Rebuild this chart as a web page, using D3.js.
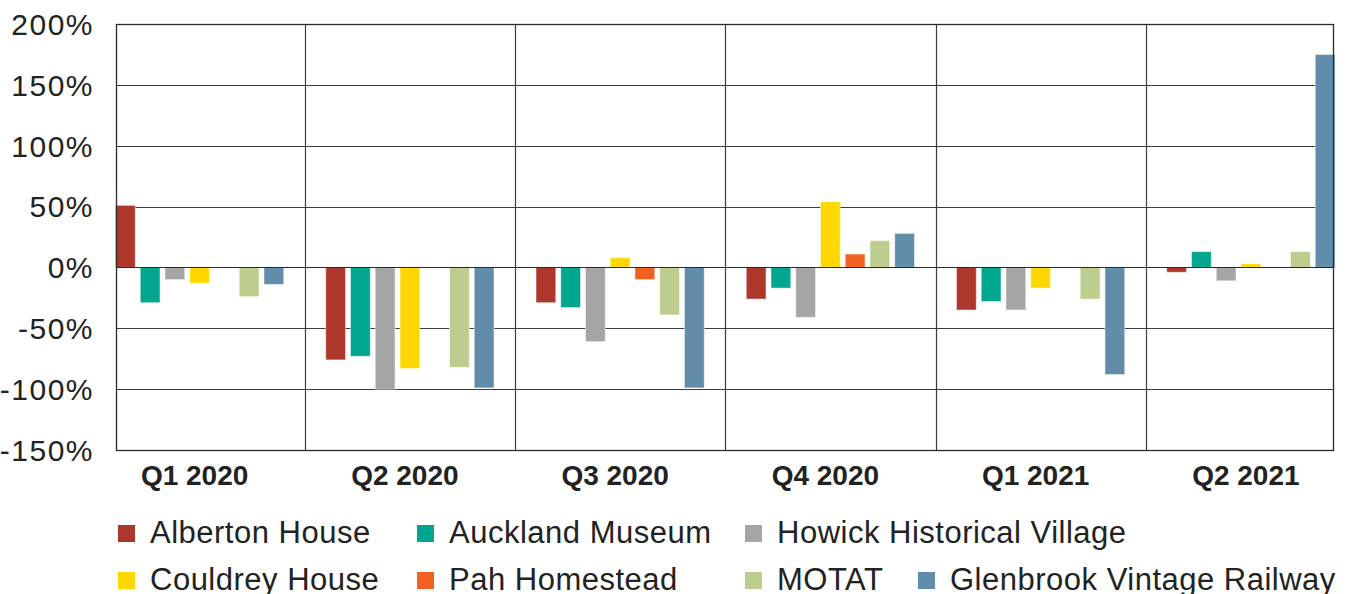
<!DOCTYPE html>
<html>
<head>
<meta charset="utf-8">
<script src="https://cdn.jsdelivr.net/npm/d3@7"></script>
<style>
  body { margin: 0; background: #fff; }
  svg { display: block; font-family: "Liberation Sans", Arial, sans-serif; }
</style>
</head>
<body>
<div class="container"></div>
<script>
const quarters = ['Q1 2020', 'Q2 2020', 'Q3 2020', 'Q4 2020', 'Q1 2021', 'Q2 2021']
const series = ['Alberton House', 'Auckland Museum', 'Howick Historical Village',
  'Couldrey House', 'Pah Homestead', 'MOTAT', 'Glenbrook Vintage Railway']
const colors = ['#ae372c', '#00a68e', '#a5a5a5', '#ffd700', '#f26122', '#bccd8d', '#628daa']
const yTicks = [-150, -100, -50, 0, 50, 100, 150, 200]

// % change per quarter, one array per series (null = no bar)
const alberton = [51, -76, -29, -26, -35, -4]
const auckland = [-29, -73, -33, -17, -28, 13]
const howick = [-10, -100, -61, -41, -35, -11]
const couldrey = [-13, -83, 8, 54, -17, 3]
const pah = [null, null, -10, 11, null, null]
const motat = [-24, -82, -39, 22, -26, 13]
const glenbrook = [-14, -99, -99, 28, -88, 175]

const values = [alberton, auckland, howick, couldrey, pah, motat, glenbrook]

const width = 1347
const height = 594
const plotLeft = 116, plotRight = 1334, plotTop = 24, plotBottom = 450

const svg = d3.select('.container')
  .append('svg')
  .attr('width', width)
  .attr('height', height)

const xScale = d3.scaleBand()
  .domain(quarters)
  .range([94.5, 1356])
  .padding(0)

const inner = d3.scaleBand()
  .domain(series)
  .range([0, xScale.bandwidth()])
  .paddingInner(0.2)
  .paddingOuter(0.848)

const yScale = d3.scaleLinear()
  .domain([-150, 200])
  .range([plotBottom, plotTop])

// horizontal grid
svg.append('g')
  .selectAll('line')
  .data(yTicks)
  .enter()
  .append('line')
  .attr('x1', plotLeft)
  .attr('x2', plotRight)
  .attr('y1', (d) => Math.round(yScale(d)) + 0.5)
  .attr('y2', (d) => Math.round(yScale(d)) + 0.5)
  .attr('stroke', '#3c3c3c')
  .attr('stroke-width', 1.2)

// vertical separators between quarters
svg.append('g')
  .selectAll('line')
  .data(quarters.slice(1))
  .enter()
  .append('line')
  .attr('x1', (d) => Math.round(xScale(d)) + 0.5)
  .attr('x2', (d) => Math.round(xScale(d)) + 0.5)
  .attr('y1', plotTop)
  .attr('y2', plotBottom)
  .attr('stroke', '#3c3c3c')
  .attr('stroke-width', 1.2)

// bars
const barData = []
quarters.forEach((q, qi) => {
  series.forEach((s, si) => {
    const v = values[si][qi]
    if (v !== null) barData.push({ quarter: q, series: s, value: v, color: colors[si] })
  })
})

svg.append('g')
  .selectAll('rect')
  .data(barData)
  .enter()
  .append('rect')
  .attr('x', (d) => xScale(d.quarter) + inner(d.series))
  .attr('width', inner.bandwidth())
  .attr('y', (d) => yScale(Math.max(0, d.value)))
  .attr('height', (d) => Math.abs(yScale(d.value) - yScale(0)))
  .attr('fill', (d) => d.color)
  .attr('stroke', '#fff')
  .attr('stroke-opacity', 0.5)
  .attr('stroke-width', 1)

// zero line on top
svg.append('line')
  .attr('x1', plotLeft)
  .attr('x2', plotRight)
  .attr('y1', Math.round(yScale(0)) + 0.5)
  .attr('y2', Math.round(yScale(0)) + 0.5)
  .attr('stroke', '#2a2a2a')
  .attr('stroke-width', 1.2)

// frame
svg.append('rect')
  .attr('x', plotLeft + 0.5)
  .attr('y', plotTop + 0.5)
  .attr('width', plotRight - plotLeft - 1)
  .attr('height', plotBottom - plotTop)
  .attr('fill', 'none')
  .attr('stroke', '#2a2a2a')
  .attr('stroke-width', 1.3)

// y labels
svg.append('g')
  .selectAll('text')
  .data(yTicks)
  .enter()
  .append('text')
  .attr('x', 94)
  .attr('y', (d) => yScale(d))
  .attr('dy', '0.36em')
  .attr('text-anchor', 'end')
  .attr('font-size', '30px')
  .attr('letter-spacing', '1.5px')
  .attr('fill', '#222')
  .text((d) => d + '%')

// x labels
svg.append('g')
  .selectAll('text')
  .data(quarters)
  .enter()
  .append('text')
  .attr('x', (d) => xScale(d) + xScale.bandwidth() / 2 - 5)
  .attr('y', 485)
  .attr('text-anchor', 'middle')
  .attr('font-size', '28px')
  .attr('font-weight', 'bold')
  .attr('fill', '#222')
  .text((d) => d)

// legend
const legendX = [118, 417, 745, 918]
const legendItems = series.map((s, i) => {
  const row = i < 3 ? 0 : 1
  const col = i < 3 ? i : i - 3
  return { name: s, color: colors[i], x: legendX[col], y: 525 + row * 47 }
})

const legend = svg.append('g')
  .selectAll('g')
  .data(legendItems)
  .enter()
  .append('g')
  .attr('transform', (d) => `translate(${d.x}, ${d.y})`)

legend.append('rect')
  .attr('width', 17)
  .attr('height', 17)
  .attr('fill', (d) => d.color)

legend.append('text')
  .attr('x', 32)
  .attr('y', 17.5)
  .attr('font-size', '31px')
  .attr('letter-spacing', '0.5px')
  .attr('fill', '#222')
  .text((d) => d.name)
</script>
</body>
</html>
